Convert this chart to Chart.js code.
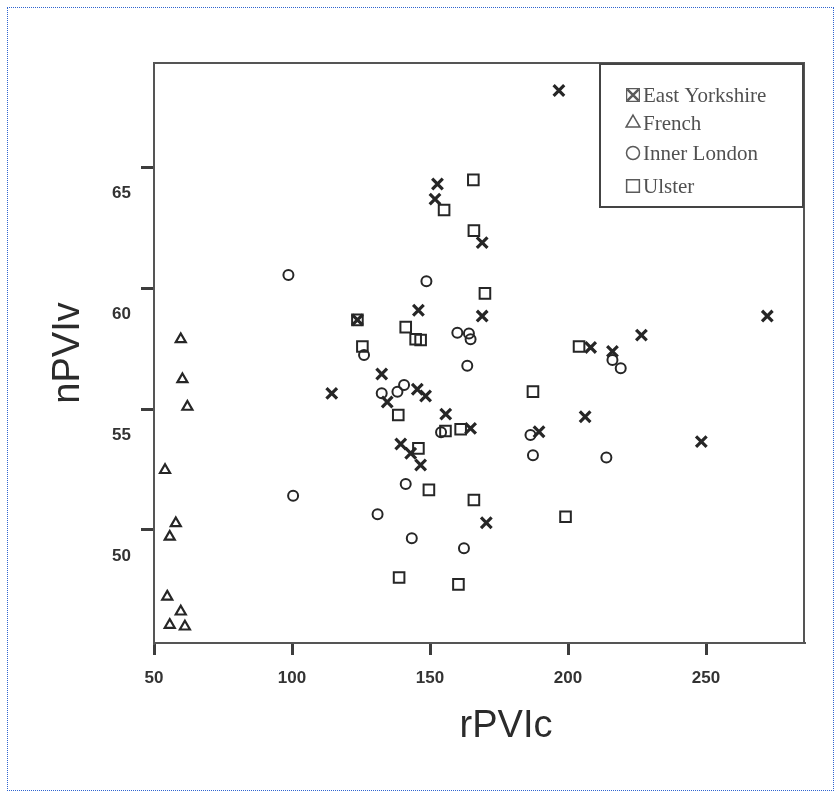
<!DOCTYPE html>
<html>
<head>
<meta charset="utf-8">
<script src="https://cdn.jsdelivr.net/npm/chart.js@4"></script>
<style>
  html, body { margin: 0; padding: 0; background: #ffffff; }
  #wrap { position: relative; width: 840px; height: 798px; }
  #frame { position: absolute; left: 7px; top: 7px; width: 825px; height: 782px; border: 1px dotted #2f64d0; pointer-events: none; }
</style>
</head>
<body>
<div id="wrap">
  <canvas id="c" width="840" height="798"></canvas>
  <div id="frame"></div>
</div>
<script>
// ---- data ----
const seriesNames = ['East Yorkshire', 'French', 'Inner London', 'Ulster'];

const eastYorkshireX = [196.7, 152.7, 151.8, 168.9, 145.8, 123.7, 168.9, 272.2, 226.6, 208.2, 216.1, 132.5, 114.4, 134.5, 145.4, 148.4, 155.7, 164.7, 139.4, 143.0, 146.6, 206.2, 189.5, 248.3, 170.4];
const eastYorkshireY = [68.2, 64.33, 63.7, 61.9, 59.1, 58.7, 58.86, 58.86, 58.07, 57.56, 57.4, 56.46, 55.66, 55.3, 55.83, 55.55, 54.8, 54.21, 53.56, 53.18, 52.69, 54.69, 54.07, 53.66, 50.3];

const frenchX = [59.7, 60.3, 62.1, 54.0, 57.9, 55.7, 54.8, 59.7, 55.7, 61.2];
const frenchY = [57.9, 56.24, 55.1, 52.48, 50.28, 49.72, 47.24, 46.62, 46.07, 46.0];

const innerLondonX = [98.7, 148.7, 159.9, 164.1, 164.7, 126.1, 163.5, 132.5, 138.2, 140.6, 154.0, 141.2, 100.4, 131.0, 143.4, 162.3, 216.1, 219.1, 186.4, 187.3, 213.9];
const innerLondonY = [60.56, 60.3, 58.17, 58.14, 57.9, 57.25, 56.8, 55.66, 55.73, 56.0, 54.05, 51.9, 51.42, 50.65, 49.66, 49.24, 57.04, 56.7, 53.93, 53.1, 53.0];

const ulsterX = [155.1, 165.7, 165.9, 169.9, 123.7, 141.2, 144.8, 146.6, 125.5, 204.0, 138.5, 155.6, 161.1, 145.8, 149.6, 165.9, 187.3, 199.1, 138.8, 160.3];
const ulsterY = [63.25, 64.5, 62.4, 59.8, 58.7, 58.4, 57.9, 57.87, 57.6, 57.6, 54.76, 54.1, 54.17, 53.38, 51.66, 51.24, 55.73, 50.55, 48.03, 47.75];

const xTickValues = [50, 100, 150, 200, 250];
const yTickValues = [50, 55, 60, 65];
const xTitle = 'rPVIc';
const yTitle = 'nPVIv';

// ---- build ----
function pts(xs, ys) { return xs.map((x, i) => ({ x: x, y: ys[i] })); }

const markColor = '#262626';
const styles = [
  { pointStyle: 'crossRot', radius: 7.5, borderWidth: 3.2 },
  { pointStyle: 'triangle', radius: 5.8, borderWidth: 2.2 },
  { pointStyle: 'circle', radius: 5, borderWidth: 2 },
  { pointStyle: 'rect', radius: 7.5, borderWidth: 2 }
];
const seriesData = [
  pts(eastYorkshireX, eastYorkshireY),
  pts(frenchX, frenchY),
  pts(innerLondonX, innerLondonY),
  pts(ulsterX, ulsterY)
];

const datasets = seriesNames.map((name, i) => ({
  label: name,
  data: seriesData[i],
  pointStyle: styles[i].pointStyle,
  pointRadius: styles[i].radius,
  pointBorderWidth: styles[i].borderWidth,
  pointBorderColor: markColor,
  pointBackgroundColor: 'rgba(0,0,0,0)',
  showLine: false
}));

const framePlugin = {
  id: 'frameAndLegend',
  afterDraw(chart) {
    const ctx = chart.ctx;
    const a = chart.chartArea;
    ctx.save();
    // plot box
    ctx.strokeStyle = '#555555';
    ctx.lineWidth = 2;
    ctx.strokeRect(a.left, a.top, a.right - a.left, a.bottom - a.top);

    // x axis title
    ctx.fillStyle = '#2b2b2b';
    ctx.font = '38px "Liberation Sans", Arial, sans-serif';
    ctx.textAlign = 'center';
    ctx.textBaseline = 'middle';
    ctx.fillText(xTitle, 506, 727);

    // legend box
    const lx = 600, ly = 64, lw = 203, lh = 143;
    ctx.fillStyle = '#ffffff';
    ctx.fillRect(lx, ly, lw, lh);
    ctx.strokeStyle = '#444444';
    ctx.lineWidth = 2;
    ctx.strokeRect(lx, ly, lw, lh);

    const rows = [95, 123, 153, 186];
    const legendStyles = [
      { pointStyle: 'crossRot', radius: 8, borderWidth: 2.5 },
      { pointStyle: 'triangle', radius: 8, borderWidth: 1.5 },
      { pointStyle: 'circle', radius: 6.5, borderWidth: 1.5 },
      { pointStyle: 'rect', radius: 9, borderWidth: 1.5 }
    ];
    ctx.textAlign = 'left';
    ctx.font = '21px "Liberation Serif", "Times New Roman", serif';
    seriesNames.forEach((name, i) => {
      const s = legendStyles[i];
      ctx.strokeStyle = '#5a5a5a';
      ctx.fillStyle = 'rgba(0,0,0,0)';
      ctx.lineWidth = s.borderWidth;
      Chart.helpers.drawPoint(ctx, { pointStyle: s.pointStyle, radius: s.radius, borderWidth: s.borderWidth, rotation: 0 }, 633, rows[i]);
      if (i === 0) {
        ctx.lineWidth = 1.2;
        Chart.helpers.drawPoint(ctx, { pointStyle: 'rect', radius: 9, borderWidth: 1.2, rotation: 0 }, 633, rows[i]);
      }
      ctx.fillStyle = '#505050';
      ctx.fillText(name, 643, rows[i] + 1);
    });
    ctx.restore();
  }
};

new Chart(document.getElementById('c'), {
  type: 'scatter',
  data: { datasets: datasets },
  plugins: [framePlugin],
  options: {
    responsive: false,
    animation: false,
    devicePixelRatio: 1,
    events: [],
    layout: { padding: { top: 63, right: 36, left: 0, bottom: 0 } },
    plugins: { legend: { display: false }, tooltip: { enabled: false } },
    scales: {
      x: {
        type: 'linear',
        min: 50,
        max: 285.5,
        afterFit(scale) { scale.height = 155; },
        afterBuildTicks(scale) { scale.ticks = xTickValues.map(v => ({ value: v })); },
        grid: { drawOnChartArea: false, drawTicks: true, tickLength: 12, lineWidth: 3, color: '#3d3d3d' },
        border: { display: true, color: '#555555', width: 2 },
        ticks: {
          padding: 13,
          color: '#333333',
          font: { family: '"Liberation Sans", Arial, sans-serif', size: 17, weight: 'bold' },
          maxRotation: 0,
          autoSkip: false,
          callback: v => String(v)
        }
      },
      y: {
        type: 'linear',
        min: 45.32,
        max: 69.34,
        afterFit(scale) { scale.width = 154; },
        afterBuildTicks(scale) { scale.ticks = yTickValues.map(v => ({ value: v })); },
        grid: { drawOnChartArea: false, drawTicks: true, tickLength: 13, lineWidth: 3, color: '#3d3d3d' },
        border: { display: true, color: '#555555', width: 2 },
        title: {
          display: true,
          text: yTitle,
          color: '#2b2b2b',
          font: { family: '"Liberation Sans", Arial, sans-serif', size: 38, weight: 'normal' },
          padding: { top: 46, bottom: 0 }
        },
        ticks: {
          padding: 10,
          labelOffset: 26,
          color: '#333333',
          font: { family: '"Liberation Sans", Arial, sans-serif', size: 17, weight: 'bold' },
          autoSkip: false,
          callback: v => String(v)
        }
      }
    }
  }
});
</script>
</body>
</html>
